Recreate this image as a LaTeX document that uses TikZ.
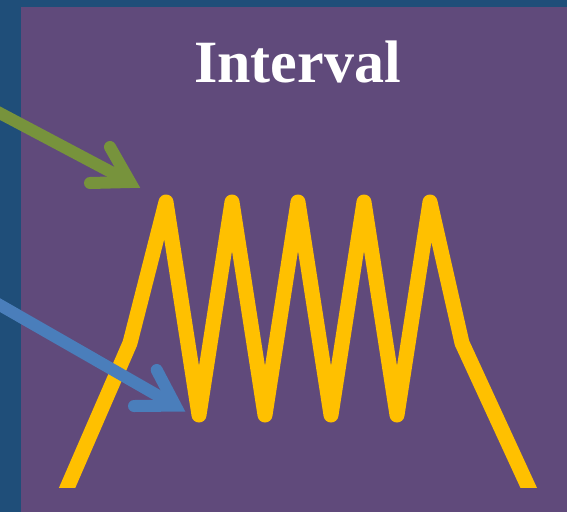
\documentclass[tikz,border=0pt]{standalone}
\usepackage{fontspec}
\setmainfont{Liberation Serif}
\usetikzlibrary{positioning,calc}
\definecolor{slideblue}{HTML}{1F4E79}
\definecolor{panelpurple}{HTML}{604A7B}
\definecolor{coilyellow}{HTML}{FFC000}
\definecolor{arrowgreen}{HTML}{77933C}
\definecolor{arrowblue}{HTML}{4A7EBB}

\begin{document}
\begin{tikzpicture}[x=1pt,y=-1pt,
 coil/.style={line width=15pt,coilyellow,line join=round},
 shaft/.style={line width=12pt},
 barb/.style={line width=12pt,line cap=round,line join=miter},
 title/.style={font=\bfseries\fontsize{60}{66}\selectfont,text=white,inner sep=0pt}]
\useasboundingbox (0,0) rectangle (567,512);
\fill[slideblue] (0,0) rectangle (567,512);
\fill[panelpurple] (21,7) rectangle (567,512);
\node[title,anchor=base] (title) at (297.5,82.5) {Interval};
% zigzag
\begin{scope}
\clip (0,0) rectangle (567,487);
\draw[coil] (64,495) -- (130,343) -- (166,202)
  \foreach \k in {0,...,3}{ -- ({199+66*\k},415) -- ({232+66*\k},202) }
  -- (462,343) -- (532,495);
\end{scope}
% arrows
\coordinate (gstart) at (-10,107.9);
\coordinate (gtip) at (130,182);
\coordinate (btail) at (-10,299.4);
\coordinate (btip) at (175.4,405.6);
\draw[shaft,arrowgreen] (gstart) -- (gtip);
\draw[barb,arrowgreen] (110,147) -- (gtip) -- (90,183);
\draw[shaft,arrowblue] (btail) -- (btip);
\draw[barb,arrowblue] (156.7,370) -- (btip) -- (134,406);
\end{tikzpicture}
\end{document}
